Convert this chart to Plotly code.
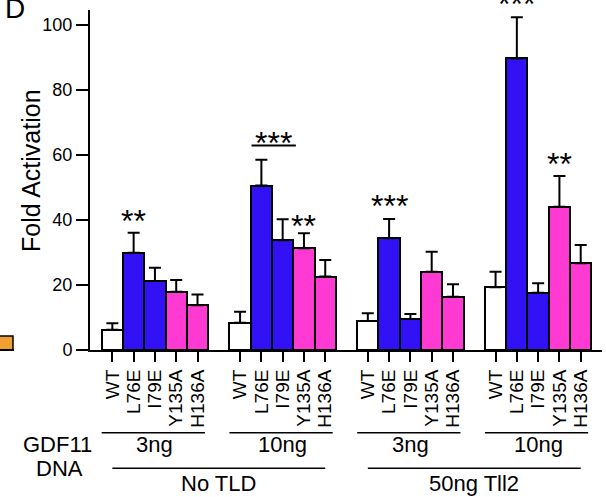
import plotly.graph_objects as go

# ---------------- data ----------------
mutants = ["WT", "L76E", "I79E", "Y135A", "H136A"]
dna_labels = ["3ng", "10ng", "3ng", "10ng"]
tld_labels = ["No TLD", "50ng Tll2"]

no_tld_3ng = [6.2, 29.9, 21.2, 17.9, 13.8]
no_tld_10ng = [8.4, 50.6, 33.8, 31.3, 22.6]
tll2_3ng = [8.9, 34.4, 9.5, 24.1, 16.4]
tll2_10ng = [19.3, 89.7, 17.6, 44.1, 26.7]

err_no_tld_3ng = [2.0, 6.2, 4.1, 3.6, 3.3]
err_no_tld_10ng = [3.4, 7.9, 6.4, 4.6, 5.1]
err_tll2_3ng = [2.4, 5.9, 1.6, 6.1, 3.8]
err_tll2_10ng = [4.8, 12.7, 2.9, 9.4, 5.6]

mutant_colors = ["#FFFFFF", "#3311F5", "#3311F5", "#FF3AD2", "#FF3AD2"]

groups = [no_tld_3ng, no_tld_10ng, tll2_3ng, tll2_10ng]
errors = [err_no_tld_3ng, err_no_tld_10ng, err_tll2_3ng, err_tll2_10ng]

# significance marks: (group index, bar offset, text, value-position)
sig_marks = [(0, 1, "**", 41.5), (1, 1.56, "***", 65.6), (1, 3, "**", 40.0),
             (2, 1, "***", 46.2), (3, 1, "***", 108.3), (3, 3, "**", 59.0)]

# ---------------- build positions ----------------
slot = 6  # 5 bars + 1 gap per group
xs, ys, es, cols, tlabels = [], [], [], [], []
for g, (vals, errs) in enumerate(zip(groups, errors)):
    for i, (v, e) in enumerate(zip(vals, errs)):
        xs.append(g * slot + i)
        ys.append(v)
        es.append(e)
        cols.append(mutant_colors[i])
        tlabels.append(mutants[i])

FONT = "Liberation Sans, Arial, Helvetica, sans-serif"

fig = go.Figure()
fig.add_trace(go.Bar(
    x=xs, y=ys, width=1.0,
    marker=dict(color=cols, line=dict(color="black", width=2)),
    error_y=dict(type="data", symmetric=False, array=es,
                 arrayminus=[0] * len(es), color="black",
                 thickness=2, width=6),
    showlegend=False,
))

# plot-area pixel helpers
L, R, T, B = 90, 4, 10, 147
W, H = 606, 497
PW, PH = W - L - R, H - T - B
YMAX = 104.6


def xp(px):
    return (px - L) / PW


def yp(py):
    return (H - B - py) / PH


annotations = []
shapes = []

# significance stars (paper y so that marks above the axis top still show)
for g, off, txt, yv in sig_marks:
    annotations.append(dict(x=g * slot + off, y=yv / YMAX, xref="x",
                            yref="paper", text=txt, showarrow=False,
                            xanchor="center", yanchor="middle",
                            font=dict(size=32, color="black", family=FONT),
                            yshift=-6))
# bracket line for the 10ng No TLD ***
shapes.append(dict(type="line", xref="x", yref="y", x0=6.54, x1=8.62,
                   y0=62.9, y1=62.9, line=dict(color="black", width=2)))

# group lines and DNA labels
for g, lab in enumerate(dna_labels):
    shapes.append(dict(type="line", xref="x", yref="paper",
                       x0=g * slot - 0.5, x1=g * slot + 4.35,
                       y0=yp(432.7), y1=yp(432.7),
                       line=dict(color="black", width=1.5)))
    annotations.append(dict(x=g * slot + 2, y=yp(445), xref="x", yref="paper",
                            text=lab, showarrow=False, xanchor="center",
                            yanchor="middle",
                            font=dict(size=22, color="black", family=FONT)))

# TLD lines and labels
for t, lab in enumerate(tld_labels):
    x0 = t * 2 * slot
    x1 = t * 2 * slot + slot + 4
    shapes.append(dict(type="line", xref="x", yref="paper", x0=x0, x1=x1,
                       y0=yp(468.3), y1=yp(468.3),
                       line=dict(color="black", width=1.5)))
    annotations.append(dict(x=(x0 + x1) / 2, y=yp(483), xref="x", yref="paper",
                            text=lab, showarrow=False, xanchor="center",
                            yanchor="middle",
                            font=dict(size=22, color="black", family=FONT)))

annotations.append(dict(x=xp(57.5), y=yp(445), xref="paper", yref="paper",
                        text="GDF11", showarrow=False, xanchor="center",
                        yanchor="middle",
                        font=dict(size=22, color="black", family=FONT)))
annotations.append(dict(x=xp(59), y=yp(468), xref="paper", yref="paper",
                        text="DNA", showarrow=False, xanchor="center",
                        yanchor="middle",
                        font=dict(size=22, color="black", family=FONT)))
# y-axis title
annotations.append(dict(x=xp(31), y=yp(171), xref="paper", yref="paper",
                        text="Fold Activation", showarrow=False,
                        textangle=-90, xanchor="center", yanchor="middle",
                        font=dict(size=25, color="black", family=FONT)))
# panel letter
annotations.append(dict(x=xp(15), y=yp(8), xref="paper", yref="paper",
                        text="D", showarrow=False, xanchor="center",
                        yanchor="middle",
                        font=dict(size=28, color="black", family=FONT)))

# remnant of neighbouring panel on the left edge
shapes.append(dict(type="rect", xref="paper", yref="paper",
                   x0=xp(-2), x1=xp(13), y0=yp(350), y1=yp(336),
                   fillcolor="#F0A030", line=dict(color="black", width=1.5)))
shapes.append(dict(type="line", xref="paper", yref="paper",
                   x0=xp(0), x1=xp(14), y0=yp(350), y1=yp(350),
                   line=dict(color="black", width=2)))

fig.update_layout(
    width=W, height=H,
    margin=dict(l=L, r=R, t=T, b=B, pad=0),
    paper_bgcolor="white", plot_bgcolor="white",
    font=dict(family=FONT, color="black"),
    bargap=0,
    annotations=annotations,
    shapes=shapes,
    xaxis=dict(range=[-1.05, 23.0], tickmode="array", tickvals=xs,
               ticktext=tlabels, tickangle=-90,
               tickfont=dict(size=19, family=FONT, color="black"),
               showline=True, linecolor="black", linewidth=2,
               ticks="outside", ticklen=10, tickwidth=2, tickcolor="black",
               showgrid=False, zeroline=False),
    yaxis=dict(range=[0, YMAX], tickmode="array",
               tickvals=[0, 20, 40, 60, 80, 100],
               tickfont=dict(size=18, family=FONT, color="black"),
               showline=True, linecolor="black", linewidth=2,
               ticks="outside", ticklen=12, tickwidth=2, tickcolor="black",
               showgrid=False, zeroline=False, automargin=False),
)

fig.write_html("out.html", config={"displayModeBar": False},
               post_script="document.body.style.margin='0';"
                           "document.body.style.overflow='hidden';")
